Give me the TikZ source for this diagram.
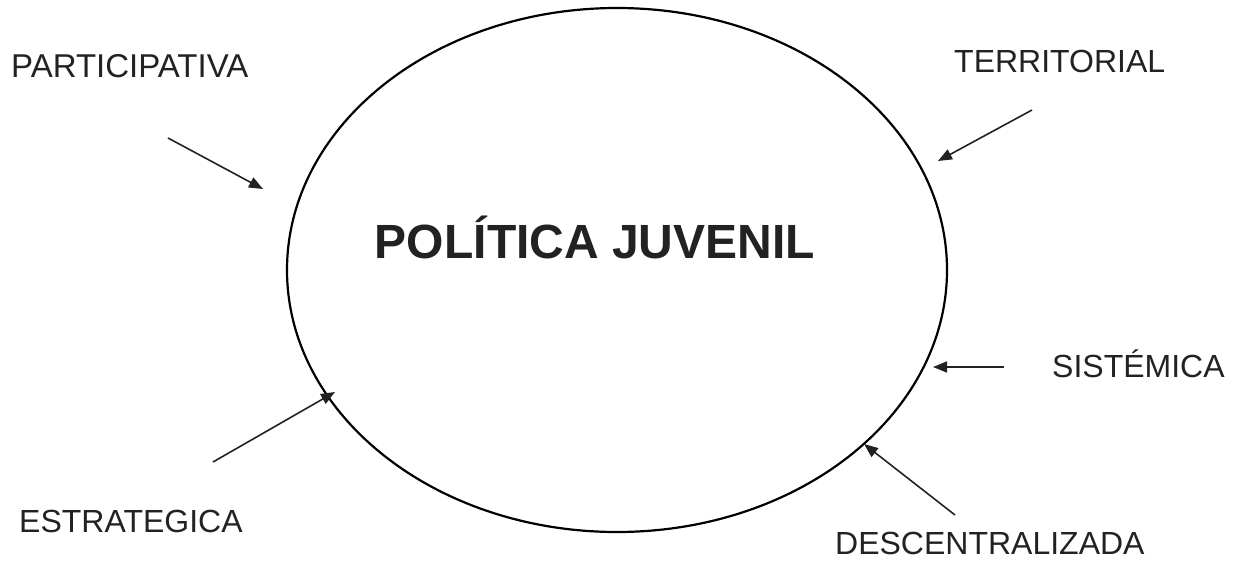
\documentclass[tikz,border=0pt]{standalone}
\usepackage{fontspec}
\setmainfont{Liberation Sans}
\usetikzlibrary{arrows.meta}
\definecolor{ink}{HTML}{222222}
\begin{document}
\begin{tikzpicture}[x=1pt,y=-1pt,
  lbl/.style={font=\fontsize{32}{36}\selectfont, text=ink, inner sep=0pt, anchor=base west},
  arr/.style={draw=ink, line width=1.6pt, -{Triangle[length=14pt,width=11pt]}},
  ring/.style={draw=black, line width=2.2pt}]
\useasboundingbox (0,0) rectangle (1235,565);
\draw[ring] (617,270) ellipse [x radius=330, y radius=262];
\node[font=\bfseries\fontsize{48}{52}\selectfont, text=ink, inner sep=0pt, anchor=base] (title) at (595,258) {POLÍTICA JUVENIL};
\node[lbl, font=\fontsize{33}{36}\selectfont] (part) at (11,77) {PARTICIPATIVA};
\node[lbl] (terr) at (954,72) {TERRITORIAL};
\node[lbl] (sist) at (1052,377) {SISTÉMICA};
\node[lbl] (estr) at (19,532) {ESTRATEGICA};
\node[lbl] (desc) at (835,554) {DESCENTRALIZADA};
\coordinate (p1) at (168,138); \coordinate (p2) at (263,189);
\coordinate (t1) at (1032,110); \coordinate (t2) at (938,161);
\coordinate (s1) at (1004,367); \coordinate (s2) at (933,367);
\coordinate (e1) at (213,462); \coordinate (e2) at (335,392);
\coordinate (d1) at (955,515); \coordinate (d2) at (864,444);
\draw[arr] (p1) -- (p2);
\draw[arr] (t1) -- (t2);
\draw[arr] (s1) -- (s2);
\draw[arr] (e1) -- (e2);
\draw[arr] (d1) -- (d2);
\end{tikzpicture}
\end{document}
